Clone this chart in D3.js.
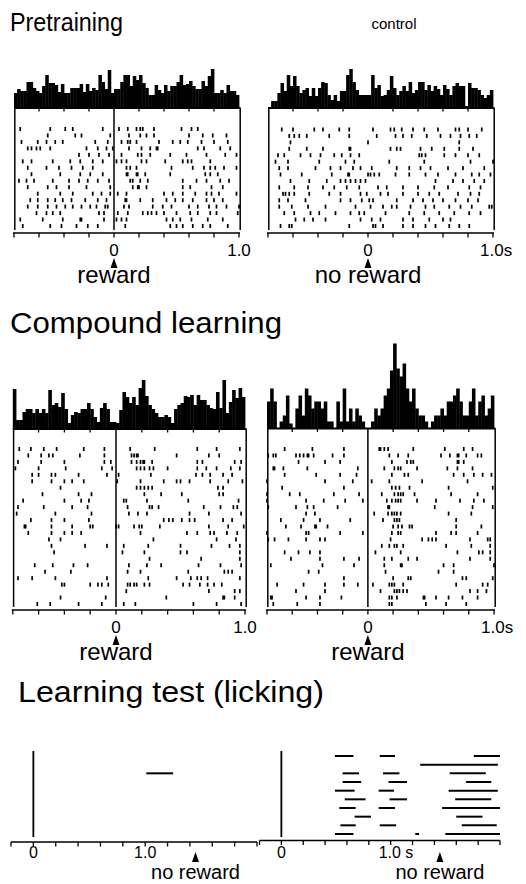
<!DOCTYPE html>
<html>
<head>
<meta charset="utf-8">
<script src="https://cdn.jsdelivr.net/npm/d3@7"></script>
<style>
html,body{margin:0;padding:0;background:#fff;}
svg{display:block;}
text{font-family:"Liberation Sans",Arial,Helvetica,sans-serif;fill:#000;}
</style>
</head>
<body>
<svg id="chart" width="526" height="884"></svg>
<script>
// ---------- DATA ----------
const titles = ["Pretraining", "Compound learning", "Learning test (licking)"];
const controlLabel = "control";
const rasterTicks = [-0.8, -0.6, -0.4, -0.2, 0, 0.2, 0.4, 0.6, 0.8, 1.0];
const lickTicks = [-0.2, 0, 0.2, 0.4, 0.6, 0.8, 1.0, 1.2, 1.4, 1.6, 1.8, 2.0];
const binWidth = 0.025; // s, histogram bins start at -0.8 s
const eventTime = 0;      // reward / no reward time in rasters
const lickEventTime = 1.45; // expected reward time in licking test

// Pretraining, reward (spike times in s, one array per trial)
const rasterPreReward = [
 [-0.75,-0.51,-0.39,-0.33,-0.09,0.04,0.11,0.18,0.21,0.23,0.32,0.54,0.62,0.67],
 [-0.53,-0.31,-0.26,-0.03,0.12,0.21,0.26,0.32,0.60,0.71,0.79,0.90],
 [-0.74,-0.61,-0.54,-0.47,-0.41,-0.15,-0.05,0.06,0.11,0.13,0.18,0.36,0.47,0.53,0.59,0.70,0.80,0.91],
 [-0.69,-0.66,-0.62,-0.59,-0.51,-0.22,-0.13,-0.06,-0.01,0.12,0.22,0.29,0.34,0.35,0.67,0.72,0.85,0.93],
 [-0.28,-0.20,-0.12,-0.04,0.06,0.19,0.22,0.29,0.45,0.58,0.74,0.89,0.98],
 [-0.73,-0.66,-0.49,-0.35,-0.27,-0.17,-0.09,0.02,0.06,0.10,0.22,0.26,0.41,0.55,0.59,0.62,0.77],
 [-0.69,-0.54,-0.44,-0.34,-0.25,-0.17,0.10,0.13,0.18,0.46,0.63,0.72,0.77,0.81,0.88,0.98],
 [-0.66,-0.43,-0.27,-0.19,-0.09,0.10,0.11,0.18,0.19,0.25,0.45,0.73,0.77,0.83],
 [-0.76,-0.70,-0.64,-0.49,-0.36,-0.28,-0.21,-0.13,-0.04,0.13,0.15,0.21,0.27,0.55,0.66,0.74,0.85,0.92],
 [-0.69,-0.53,-0.46,-0.36,-0.22,-0.03,0.15,0.19,0.20,0.26,0.55,0.61,0.78,0.87],
 [-0.61,-0.43,-0.33,-0.17,-0.10,-0.03,0.03,0.10,0.40,0.47,0.55,0.65,0.74,0.78,0.84,0.98],
 [-0.67,-0.61,-0.53,-0.47,-0.41,-0.34,-0.23,-0.13,-0.06,0.09,0.10,0.21,0.31,0.42,0.49,0.55,0.63,0.74,0.80,0.87],
 [-0.69,-0.61,-0.53,-0.46,-0.39,-0.33,-0.26,-0.19,-0.14,-0.07,-0.05,0.08,0.12,0.31,0.39,0.46,0.60,0.67,0.76,0.82,0.90,1.0],
 [-0.62,-0.54,-0.49,-0.43,-0.12,-0.08,0.03,0.11,0.23,0.27,0.30,0.34,0.40,0.50,0.61,0.67,0.77,0.82,0.99],
 [-0.75,-0.57,-0.41,-0.27,-0.26,-0.08,0.02,0.06,0.10,0.42,0.47,0.53,0.62,0.75,0.87],
 [-0.73,-0.51,-0.42,-0.30,-0.21,-0.13,0.09,0.45,0.50,0.55,0.63,0.71,0.77,0.91]
];
// Pretraining, no reward (control)
const rasterPreNoReward = [
 [-0.69,-0.60,-0.43,-0.36,-0.23,-0.15,0.04,0.18,0.21,0.27,0.36,0.45,0.56,0.70,0.73,0.80,0.91],
 [-0.63,-0.59,-0.55,-0.49,-0.31,-0.15,0.07,0.22,0.28,0.35,0.47,0.58,0.66,0.74,0.81,0.87],
 [-0.62,0.00,0.73],
 [-0.63,-0.49,-0.36,-0.15,-0.14,0.18,0.23,0.26,0.42,0.51,0.61,0.73,0.84],
 [-0.72,-0.67,-0.54,-0.46,-0.38,-0.27,-0.21,-0.14,-0.07,0.41,0.43,0.46,0.61,0.70,0.80,0.89],
 [-0.74,-0.64,-0.39,-0.18,-0.11,0.17,0.45,0.82,1.00],
 [-0.71,-0.64,-0.42,-0.30,-0.22,-0.12,-0.06,0.03,0.23,0.33,0.42,0.50,0.64,0.76,0.93],
 [-0.70,-0.53,-0.29,-0.16,-0.15,0.00,0.02,0.05,0.09,0.22,0.33,0.46,0.56,0.70,0.83,0.89,0.98],
 [-0.62,-0.47,-0.33,-0.22,-0.18,-0.14,-0.10,-0.06,-0.02,0.54,0.68,0.76,0.85,0.93],
 [-0.71,-0.59,-0.48,-0.36,-0.27,-0.17,-0.07,0.08,0.15,0.28,0.40,0.53,0.64,0.81,0.90],
 [-0.68,-0.66,-0.63,-0.59,-0.47,-0.31,-0.22,-0.06,-0.01,0.10,0.16,0.28,0.40,0.49,0.57,0.72,0.82,0.89],
 [-0.71,-0.64,-0.50,-0.22,-0.14,-0.05,0.01,0.04,0.23,0.36,0.44,0.52,0.60,0.70,0.80,0.88],
 [-0.71,-0.61,-0.48,-0.34,-0.10,0.02,0.12,0.19,0.23,0.34,0.46,0.53,0.65,0.74,0.83,0.97,0.99],
 [-0.67,-0.59,-0.46,-0.39,-0.26,-0.14,-0.07,-0.03,0.14,0.33,0.45,0.57,0.69,0.81,0.90],
 [-0.58,-0.51,-0.44,-0.34,-0.06,0.03,0.10,0.28,0.36,0.49,0.60,0.66],
 [-0.70,-0.63,-0.61,-0.15,0.04,0.06,0.12,0.28,0.36,0.46,0.54,0.65,0.73,0.81]
];
// Compound learning, reward (left)
const rasterCompReward = [
 [-0.75,-0.66,-0.56,-0.46,-0.25,-0.09,0.11,0.30,0.63,0.78,0.96],
 [-0.68,-0.58,-0.52,-0.49,-0.28,-0.09,0.12,0.14,0.16,0.17,0.47,0.72,0.80],
 [-0.76,-0.58,-0.40,-0.09,-0.04,0.12,0.16,0.19,0.21,0.22,0.28,0.63,0.67,0.92,0.97],
 [-0.78,-0.60,-0.39,-0.11,-0.03,0.16,0.19,0.22,0.26,0.29,0.40,0.63,0.70,0.78,0.89,0.96],
 [-0.65,-0.60,-0.50,-0.47,-0.29,-0.07,0.02,0.27,0.62,0.67,0.73,0.83,0.90],
 [-0.65,-0.50,-0.40,-0.34,-0.25,0.01,0.19,0.37,0.47,0.50,0.57,0.73,0.87,0.98],
 [-0.43,0.16,0.19,0.22,0.25,0.28,0.79,0.83],
 [-0.57,-0.29,-0.19,0.22,0.35,0.51,0.80,0.83],
 [-0.72,-0.40,-0.27,-0.21,0.06,0.08,0.24,0.56,0.95],
 [-0.76,-0.56,-0.34,-0.22,0.09,0.26,0.28,0.33,0.68,0.81,0.91,0.94],
 [-0.77,-0.47,-0.19,0.10,0.17,0.24,0.57,0.72,0.97],
 [-0.66,-0.50,-0.40,-0.21,0.37,0.41,0.44,0.51,0.57,0.61,0.83,0.90],
 [-0.71,-0.70,-0.50,-0.34,-0.20,-0.18,0.00,0.02,0.14,0.18,0.20,0.34,0.72,0.87,0.99],
 [-0.68,-0.50,-0.40,-0.34,-0.27,0.19,0.55,0.63,0.73,0.76,0.86,0.94],
 [-0.52,-0.43,0.29,0.78,0.93],
 [-0.50,-0.24,-0.07,0.06,0.25,0.50,0.74,0.88,0.96],
 [-0.48,0.05,0.22,0.50,0.55,0.96],
 [0.26,0.66,0.96],
 [-0.63,-0.49,-0.33,-0.22,0.10,0.24,0.35,0.64,0.81,0.97],
 [-0.55,-0.35,0.09,0.19,0.56,0.84,0.87,0.90],
 [-0.76,-0.65,-0.47,-0.07,0.25,0.47,0.58,0.63,0.66,0.71,0.96],
 [-0.42,-0.40,-0.20,-0.14,-0.11,-0.06,0.09,0.11,0.14,0.16,0.22,0.26,0.52,0.57,0.65,0.71,0.76,0.82],
 [0.08,0.72,0.92,0.96],
 [-0.43,-0.08,0.39,0.83,0.84,0.92],
 [-0.61,-0.51,-0.29,-0.11,0.06,0.15,0.60,0.78,0.97]
];
// Compound learning, reward (right)
const rasterCompRewardB = [
 [-0.66,-0.44,-0.19,0.09,0.10,0.13,0.16,0.36,0.61,0.76,0.83],
 [-0.79,-0.75,-0.73,-0.57,-0.54,-0.51,-0.48,-0.47,-0.43,-0.28,-0.19,0.17,0.24,0.32,0.58,0.65,0.71,0.72,0.78,0.87,0.90],
 [-0.55,-0.34,-0.22,0.19,0.31,0.34,0.36,0.71,0.72,0.76],
 [-0.75,-0.74,-0.67,-0.48,-0.08,0.13,0.21,0.24,0.26,0.39,0.63,0.71,0.83],
 [-0.66,-0.41,-0.22,-0.09,0.19,0.29,0.32,0.68,0.76,0.84,0.91,0.98],
 [-0.80,-0.34,-0.12,0.03,0.17,0.43,0.79],
 [-0.68,-0.19,0.19,0.22,0.25,0.33,0.64,0.99],
 [-0.80,-0.62,-0.54,-0.27,-0.07,0.11,0.21,0.24,0.26,0.28,0.37,0.66,0.87],
 [-0.80,-0.49,-0.35,-0.18,-0.04,0.15,0.19,0.22,0.24,0.26,0.39,0.54,0.73,0.84,0.92],
 [-0.79,-0.57,-0.48,-0.43,-0.24,0.16,0.17,0.53,0.83,0.99],
 [-0.49,-0.42,0.05,0.16,0.19,0.21,0.23,0.26,0.64,0.82],
 [-0.69,-0.51,-0.38,-0.14,0.12,0.21,0.23,0.25,0.70],
 [-0.65,-0.53,-0.42,-0.41,-0.32,0.20,0.24,0.27,0.33,0.35,0.70,0.90],
 [-0.80,-0.49,-0.47,-0.22,-0.04,0.19,0.24,0.26,0.54,0.66,0.70,0.87],
 [-0.79,-0.74,-0.63,-0.49,-0.38,-0.34,0.18,0.43,0.48,0.51,0.54,0.81,0.95,0.97],
 [0.11,0.17,0.21,0.23,0.28,0.62,0.82,0.97],
 [-0.66,-0.55,-0.46,-0.38,0.06,0.26,0.71,0.88,0.91,0.97],
 [-0.61,-0.38,-0.19,-0.07,0.13,0.19,0.32,0.39,0.81,0.97],
 [-0.77,-0.36,-0.11,0.13,0.26,0.27,0.60,0.68,1.00],
 [-0.47,-0.39,0.14,0.56,0.68],
 [-0.19,0.20,0.32,0.34,0.75,0.78,0.99],
 [-0.72,-0.51,-0.34,-0.19,-0.08,0.04,0.17,0.19,0.21,0.28,0.70,0.91,0.95],
 [-0.57,-0.34,0.10,0.21,0.23,0.25,0.28,0.31,0.81,0.87,0.94],
 [-0.77,-0.76,-0.49,-0.38,-0.21,0.17,0.19,0.23,0.44,0.45,0.54,0.64,0.75,0.87],
 [-0.75,-0.56,-0.38,0.17,0.19,0.46,0.62,0.78]
];
// Peri-event histograms (72 bins of 0.025 s from -0.8 s; impulse counts, arbitrary units)
const histPreReward = [15,19,17,17,26,26,20,17,15,22,33,25,25,23,16,24,15,15,20,20,20,24,16,24,17,20,18,33,26,19,38,15,19,19,26,33,33,22,32,28,33,25,20,13,13,23,18,15,23,17,22,22,26,33,23,24,27,22,19,19,27,22,32,39,15,15,18,15,23,17,17,13];
const histPreNoReward = [0,7,7,15,25,17,33,22,32,22,15,18,20,12,20,12,20,26,25,13,8,13,7,17,17,33,39,26,18,13,13,13,13,33,20,23,12,13,18,32,20,13,17,22,17,26,15,18,26,26,18,23,17,22,19,13,23,19,13,22,25,22,22,2,25,20,20,18,13,10,13,18];
const histCompReward = [40,9,9,17,20,20,16,20,16,20,16,39,24,26,22,36,20,6,14,17,16,20,20,26,20,12,7,21,26,20,7,7,6,19,37,32,26,32,24,41,49,33,24,20,16,12,12,14,12,6,20,24,26,33,32,34,24,34,29,29,24,21,20,37,21,49,16,27,39,31,41,32];
const histCompRewardB = [27,40,27,0,7,13,33,5,0,20,33,13,40,33,20,27,27,20,27,7,7,0,27,7,40,7,20,7,20,13,7,0,0,7,20,13,20,33,40,58,85,60,52,65,40,27,40,20,13,13,7,0,7,13,13,20,13,27,27,33,40,27,13,13,27,40,13,27,33,13,20,33];
// Licking test: lick bouts [start, end] in s, one array per trial
const lickNoStim = [[],[],[[1.01,1.25]],[],[],[],[],[],[],[]];
const lickCompound = [
 [[0.49,0.66],[0.90,1.04],[1.76,2.00]],
 [[1.27,1.98]],
 [[0.56,0.71],[0.93,1.08],[1.54,1.87]],
 [[0.56,0.73],[0.98,1.15],[1.69,1.92]],
 [[0.49,0.67],[0.89,1.03],[1.53,1.98]],
 [[0.58,0.77],[0.99,1.15],[1.59,1.92]],
 [[0.53,0.68],[0.89,1.04],[1.47,2.00]],
 [[0.67,0.82],[1.60,1.84]],
 [[0.54,0.68],[0.90,1.05],[1.65,1.97]],
 [[0.49,0.66],[1.225,1.26],[1.50,2.00]]
];

// ---------- DRAW ----------
const svg = d3.select("#chart");
const FONT_TICK = 17, FONT_EVT = 24;

svg.append("text").attr("x", 10).attr("y", 31).attr("font-size", 26)
  .attr("textLength", 113).attr("lengthAdjust", "spacingAndGlyphs").text(titles[0]);
svg.append("text").attr("x", 394).attr("y", 29).attr("font-size", 15).attr("text-anchor", "middle").text(controlLabel);
svg.append("text").attr("x", 10).attr("y", 333).attr("font-size", 29)
  .attr("textLength", 272).attr("lengthAdjust", "spacingAndGlyphs").text(titles[1]);
svg.append("text").attr("x", 18).attr("y", 702).attr("font-size", 29)
  .attr("textLength", 306).attr("lengthAdjust", "spacingAndGlyphs").text(titles[2]);

function triangle(g, cx, top) {
  g.append("path").attr("d", `M${cx-3.5},${top+10}L${cx+3.5},${top+10}L${cx},${top}Z`).attr("fill", "#000");
}

function rasterPanel(cfg) {
  const x = d3.scaleLinear().domain([-0.8, 1.0]).range(cfg.xr);
  const g = svg.append("g");
  const hy = d3.scaleLinear().domain([0, 85]).range([cfg.base, cfg.base - 85]);
  // histogram
  g.selectAll("rect.h").data(cfg.hist).join("rect")
    .attr("x", (d, i) => x(-0.8 + i * binWidth))
    .attr("width", x(binWidth) - x(0) + 0.4)
    .attr("y", d => hy(d))
    .attr("height", d => cfg.base - hy(d))
    .attr("fill", "#000");
  g.append("line").attr("x1", x(-0.8)).attr("x2", x(1.0) + 1.5)
    .attr("y1", cfg.base).attr("y2", cfg.base).attr("stroke", "#000").attr("stroke-width", 2);
  // small ticks under histogram
  g.selectAll("line.ht").data(rasterTicks.filter(t => t > -0.8 && t < 1.0 && t !== 0)).join("line")
    .attr("x1", d => x(d)).attr("x2", d => x(d))
    .attr("y1", cfg.base).attr("y2", cfg.base + 3.5)
    .attr("stroke", "#000").attr("stroke-width", 1.3);
  // box sides
  [x(-0.8) + 0.8, x(1.0) + 1.2].forEach(xx => {
    g.append("line").attr("x1", xx).attr("x2", xx).attr("y1", cfg.base).attr("y2", cfg.boxBottom)
      .attr("stroke", "#000").attr("stroke-width", 1.5);
  });
  if (cfg.zeroLine) {
    g.append("line").attr("x1", x(eventTime)).attr("x2", x(eventTime)).attr("y1", cfg.base).attr("y2", cfg.boxBottom)
      .attr("stroke", "#000").attr("stroke-width", 1.5);
  }
  // raster
  const n = cfg.raster.length;
  const ry = d3.scaleLinear().domain([0, n - 1]).range([cfg.rowTop, cfg.rowBottom]);
  cfg.raster.forEach((row, i) => {
    g.selectAll(null).data(row).join("rect")
      .attr("x", d => x(d) - 0.85).attr("width", 1.7)
      .attr("y", ry(i) - 2).attr("height", 4).attr("fill", "#000");
  });
  // axis
  const ay = cfg.axisY;
  g.append("line").attr("x1", x(-0.8) - 1).attr("x2", x(1.0) + 1).attr("y1", ay).attr("y2", ay)
    .attr("stroke", "#000").attr("stroke-width", 1.5);
  g.selectAll("line.at").data(rasterTicks).join("line")
    .attr("x1", d => x(d)).attr("x2", d => x(d)).attr("y1", ay).attr("y2", ay + 4.5)
    .attr("stroke", "#000").attr("stroke-width", 1.3);
  g.append("text").attr("x", x(0)).attr("y", ay + 23).attr("font-size", FONT_TICK).attr("text-anchor", "middle").text("0");
  const endLbl = g.append("text").attr("x", x(1.0)).attr("y", ay + 23).attr("font-size", FONT_TICK).attr("text-anchor", cfg.unit ? "start" : "middle");
  if (cfg.unit) { endLbl.attr("dx", -13).text("1.0s"); } else { endLbl.text("1.0"); }
  triangle(g, x(eventTime), ay + 25);
  g.append("text").attr("x", x(eventTime)).attr("y", ay + 50).attr("font-size", FONT_EVT).attr("text-anchor", "middle").text(cfg.evt);
}

rasterPanel({xr: [14, 239], base: 108, rowTop: 129, rowBottom: 226, boxBottom: 230, axisY: 233,
  hist: histPreReward, raster: rasterPreReward, zeroLine: true, unit: false, evt: "reward"});
rasterPanel({xr: [268, 493], base: 108, rowTop: 129.5, rowBottom: 226, boxBottom: 230, axisY: 233,
  hist: histPreNoReward, raster: rasterPreNoReward, zeroLine: false, unit: true, evt: "no reward"});
rasterPanel({xr: [12.8, 245], base: 429, rowTop: 449, rowBottom: 604, boxBottom: 607, axisY: 610,
  hist: histCompReward, raster: rasterCompReward, zeroLine: true, unit: false, evt: "reward"});
rasterPanel({xr: [267, 494], base: 428.5, rowTop: 449, rowBottom: 604, boxBottom: 607, axisY: 610,
  hist: histCompRewardB, raster: rasterCompRewardB, zeroLine: true, unit: true, evt: "reward"});

function lickPanel(cfg) {
  const x = d3.scaleLinear().domain([-0.2, 2.0]).range(cfg.xr);
  const g = svg.append("g");
  const ry = d3.scaleLinear().domain([0, 9]).range([756, 834]);
  g.append("line").attr("x1", x(0)).attr("x2", x(0)).attr("y1", 751).attr("y2", 837)
    .attr("stroke", "#000").attr("stroke-width", 1.8);
  cfg.data.forEach((row, i) => {
    g.selectAll(null).data(row).join("line")
      .attr("x1", d => x(d[0])).attr("x2", d => x(d[1]))
      .attr("y1", ry(i)).attr("y2", ry(i))
      .attr("stroke", "#000").attr("stroke-width", 2);
  });
  const ay = cfg.axisY;
  g.append("line").attr("x1", x(-0.2)).attr("x2", x(2.0)).attr("y1", ay).attr("y2", ay)
    .attr("stroke", "#000").attr("stroke-width", 1.5);
  g.selectAll("line.at").data(lickTicks).join("line")
    .attr("x1", d => x(d)).attr("x2", d => x(d)).attr("y1", ay).attr("y2", ay + 4.5)
    .attr("stroke", "#000").attr("stroke-width", 1.3);
  g.append("text").attr("x", x(0)).attr("y", 858).attr("font-size", 16).attr("text-anchor", "middle").text("0");
  const l = g.append("text").attr("x", x(1.0)).attr("y", 858).attr("font-size", 16).attr("text-anchor", cfg.unit ? "start" : "middle");
  if (cfg.unit) { l.attr("dx", -12).text("1.0 s"); } else { l.text("1.0"); }
  triangle(g, x(lickEventTime), 852);
  g.append("text").attr("x", x(lickEventTime)).attr("y", 879).attr("font-size", 20).attr("text-anchor", "middle").text("no reward");
}
lickPanel({xr: [11, 257], axisY: 842, data: lickNoStim, unit: false});
lickPanel({xr: [259.5, 500], axisY: 840.5, data: lickCompound, unit: true});
</script>
</body>
</html>
